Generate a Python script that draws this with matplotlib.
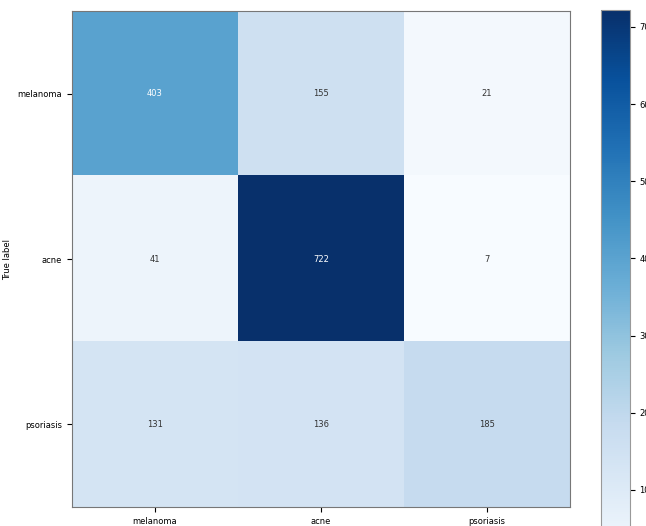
import numpy as np
import matplotlib
matplotlib.use("Agg")
import matplotlib.pyplot as plt

# class names and confusion matrix counts (rows = true, cols = predicted)
classes = ["melanoma", "acne", "psoriasis"]
row_melanoma = [403, 155, 21]
row_acne = [41, 722, 7]
row_psoriasis = [131, 136, 185]

cm = np.array([row_melanoma, row_acne, row_psoriasis])

fig = plt.figure(figsize=(6.46, 5.26), dpi=100)
ax = fig.add_axes([0.1115, 0.0361, 0.771, 0.943])
cax = fig.add_axes([0.930, -0.068, 0.045, 1.049])

im = ax.imshow(cm, cmap="Blues", aspect="auto")

# white text on dark cells, dark text on light ones (like sklearn)
thresh = (cm.max() + cm.min()) / 2.0
for i in range(cm.shape[0]):
    for j in range(cm.shape[1]):
        color = "white" if cm[i, j] > thresh else "#333333"
        ax.text(j, i, str(cm[i, j]), ha="center", va="center",
                color=color, fontsize=6)

ax.set_xticks(range(len(classes)))
ax.set_yticks(range(len(classes)))
ax.set_xticklabels(classes, fontsize=6)
ax.set_yticklabels(classes, fontsize=6)
ax.set_xlabel("Predicted label", fontsize=6, labelpad=2)
ax.set_ylabel("True label", fontsize=6)

cb = fig.colorbar(im, cax=cax)
cb.set_ticks([100, 200, 300, 400, 500, 600, 700])
cb.ax.tick_params(labelsize=6)
cb.outline.set_edgecolor("#999999")

for s in ax.spines.values():
    s.set_edgecolor("#777777")

fig.savefig("out.png", dpi=100)
